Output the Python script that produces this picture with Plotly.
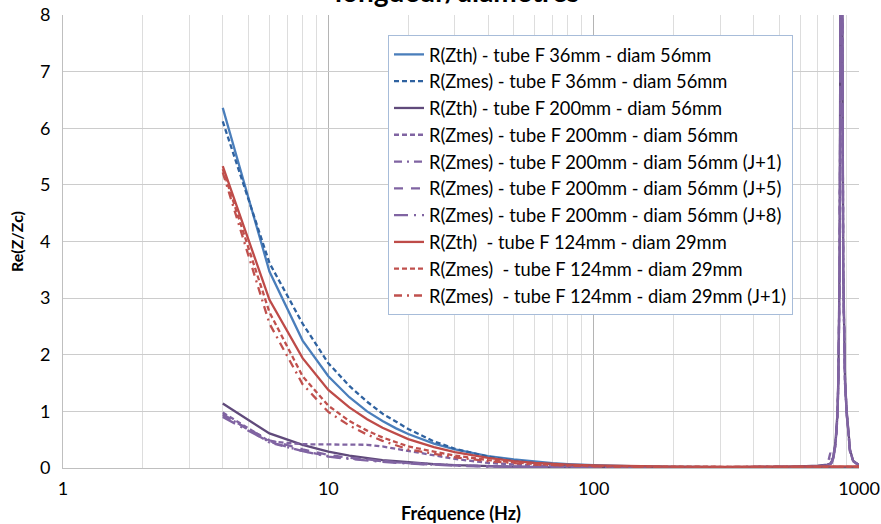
import plotly.graph_objects as go

FREQ = [4, 6, 8, 10, 12, 14, 16, 18, 20, 25, 30, 40, 50, 60, 70, 80, 100, 150, 200, 300, 400, 500, 600,
        700, 760, 780, 790, 800, 815, 829, 836, 845, 852, 858, 864, 872, 886, 899, 925, 950, 1000]

BLUE_TH = [6.36, 3.47, 2.25, 1.62, 1.25, 1.00, 0.83, 0.70, 0.60, 0.43, 0.33, 0.21, 0.15, 0.11, 0.085, 0.07, 0.05, 0.03, 0.022, 0.015, 0.012, 0.01, 0.01,
           0.01, 0.01, 0.01, 0.01, 0.01, 0.01, 0.01, 0.01, 0.01, 0.01, 0.01, 0.01, 0.01, 0.01, 0.01, 0.01, 0.01, 0.01]
BLUE_MES = [6.12, 3.62, 2.55, 1.85, 1.45, 1.17, 0.96, 0.81, 0.69, 0.47, 0.34, 0.20, 0.13, 0.09, 0.07, 0.05, 0.035, 0.02, 0.015, 0.01, 0.01, 0.01, 0.01,
            0.01, 0.01, 0.01, 0.01, 0.01, 0.01, 0.01, 0.01, 0.01, 0.01, 0.01, 0.01, 0.01, 0.01, 0.01, 0.01, 0.01, 0.01]
PURPLE_TH = [1.14, 0.61, 0.41, 0.29, 0.22, 0.17, 0.14, 0.12, 0.10, 0.07, 0.05, 0.03, 0.02, 0.015, 0.012, 0.01, 0.01, 0.01, 0.01, 0.01, 0.015, 0.02, 0.03,
             0.04, 0.06, 0.08, 0.12, 0.20, 0.45, 0.95, 1.6, 3.6, 9.0, 12.0, 9.5, 3.6, 1.55, 1.0, 0.32, 0.13, 0.05]
PURPLE_MES = [0.98, 0.47, 0.42, 0.42, 0.42, 0.41, 0.38, 0.34, 0.30, 0.22, 0.16, 0.09, 0.06, 0.04, 0.03, 0.025, 0.02, 0.015, 0.01, 0.01, 0.01, 0.015, 0.02,
              0.03, 0.05, 0.07, 0.10, 0.18, 0.40, 0.90, 1.5, 3.4, 8.6, 11.5, 9.0, 3.4, 1.5, 0.95, 0.30, 0.12, 0.05]
PURPLE_J1 = [0.95, 0.45, 0.30, 0.21, 0.17, 0.14, 0.12, 0.10, 0.09, 0.065, 0.05, 0.03, 0.02, 0.015, 0.01, 0.01, 0.01, 0.01, 0.01, 0.01, 0.01, 0.015, 0.02,
             0.03, 0.05, 0.27, 0.15, 0.20, 0.42, 0.92, 1.55, 3.5, 8.8, 11.8, 9.2, 3.5, 1.52, 0.98, 0.31, 0.12, 0.05]
PURPLE_J5 = [0.93, 0.49, 0.33, 0.23, 0.18, 0.15, 0.12, 0.10, 0.085, 0.06, 0.045, 0.03, 0.02, 0.015, 0.01, 0.01, 0.01, 0.01, 0.01, 0.01, 0.01, 0.015, 0.02,
             0.03, 0.05, 0.07, 0.10, 0.18, 0.40, 0.90, 1.5, 3.4, 8.5, 11.6, 9.1, 3.4, 1.5, 0.96, 0.30, 0.12, 0.05]
PURPLE_J8 = [0.90, 0.46, 0.30, 0.20, 0.16, 0.13, 0.11, 0.09, 0.08, 0.055, 0.04, 0.025, 0.02, 0.015, 0.01, 0.01, 0.01, 0.01, 0.01, 0.01, 0.01, 0.015, 0.02,
             0.03, 0.05, 0.07, 0.10, 0.17, 0.38, 0.88, 1.48, 3.3, 8.4, 11.4, 9.0, 3.3, 1.48, 0.94, 0.29, 0.12, 0.05]
RED_TH = [5.33, 2.97, 1.94, 1.38, 1.07, 0.86, 0.71, 0.60, 0.51, 0.37, 0.28, 0.18, 0.12, 0.09, 0.07, 0.06, 0.045, 0.03, 0.025, 0.02, 0.02, 0.02, 0.02,
          0.02, 0.02, 0.02, 0.02, 0.02, 0.02, 0.02, 0.02, 0.02, 0.02, 0.02, 0.02, 0.02, 0.02, 0.02, 0.02, 0.025, 0.03]
RED_MES = [5.28, 2.75, 1.62, 1.10, 0.83, 0.66, 0.54, 0.45, 0.38, 0.29, 0.22, 0.14, 0.10, 0.07, 0.055, 0.045, 0.035, 0.025, 0.02, 0.02, 0.02, 0.02, 0.02,
           0.02, 0.02, 0.02, 0.02, 0.02, 0.02, 0.02, 0.02, 0.02, 0.02, 0.02, 0.02, 0.02, 0.02, 0.02, 0.02, 0.02, 0.02]
RED_J1 = [5.22, 2.55, 1.48, 0.99, 0.75, 0.59, 0.48, 0.40, 0.33, 0.25, 0.19, 0.12, 0.08, 0.06, 0.05, 0.04, 0.03, 0.02, 0.02, 0.02, 0.02, 0.02, 0.02,
          0.02, 0.02, 0.02, 0.02, 0.02, 0.02, 0.02, 0.02, 0.02, 0.02, 0.02, 0.02, 0.02, 0.02, 0.02, 0.02, 0.02, 0.02]

NAMES = [
    "R(Zth) - tube F 36mm - diam 56mm",
    "R(Zmes) - tube F 36mm - diam 56mm",
    "R(Zth) - tube F 200mm - diam 56mm",
    "R(Zmes) - tube F 200mm - diam 56mm",
    "R(Zmes) - tube F 200mm - diam 56mm (J+1)",
    "R(Zmes) - tube F 200mm - diam 56mm (J+5)",
    "R(Zmes) - tube F 200mm - diam 56mm (J+8)",
    "R(Zth)  - tube F 124mm - diam 29mm",
    "R(Zmes)  - tube F 124mm - diam 29mm",
    "R(Zmes)  - tube F 124mm - diam 29mm (J+1)",
]
SERIES = [BLUE_TH, BLUE_MES, PURPLE_TH, PURPLE_MES, PURPLE_J1, PURPLE_J5, PURPLE_J8, RED_TH, RED_MES, RED_J1]
COLORS = ["#4a7ebb", "#2f62a0", "#604a7b", "#8064a2", "#8064a2", "#8064a2", "#8064a2", "#be4b48", "#c0504d", "#c0504d"]
DASHES = ["solid", "5px,3px", "solid", "5px,3px", "8px,5px,2px,5px", "9px,8px", "14px,6px,2px,6px", "solid", "5px,3px", "8px,5px,2px,5px"]

FONT = "Lato, 'Open Sans', sans-serif"

fig = go.Figure()
for i, (name, ys, c, d) in enumerate(zip(NAMES, SERIES, COLORS, DASHES)):
    fig.add_trace(go.Scatter(x=FREQ, y=ys, mode="lines", name=name, legendgroup=f"g{i}",
                             line=dict(color=c, width=2.3, dash=d)))

fig.update_layout(
    width=881, height=524,
    margin=dict(l=63, r=22, t=15, b=56),
    paper_bgcolor="white", plot_bgcolor="white",
    font=dict(family=FONT, size=18, color="#000000"),
    showlegend=True,
    legend=dict(x=(388 - 63) / 796, y=1 - (35 - 15) / 453, xanchor="left", yanchor="top",
                bgcolor="white", bordercolor="#a7bcd9", borderwidth=1,
                font=dict(family=FONT, size=18.3, color="#000000"),
                tracegroupgap=6, traceorder="normal"),
    xaxis=dict(type="log", range=[0, 3], dtick=1, showgrid=True, gridcolor="#b4b4b4", gridwidth=1,
               minor=dict(showgrid=True, gridcolor="#dddddd", gridwidth=1, dtick="D1"),
               showline=True, linecolor="#bfbfbf", linewidth=1, zeroline=False, automargin=False,
               ticks="", tickfont=dict(family=FONT, size=18), ticklabelstandoff=4,
               title=dict(text="<b>Fréquence (Hz)</b>", font=dict(family=FONT, size=18), standoff=10)),
    yaxis=dict(range=[0, 8], dtick=1, showgrid=True, gridcolor="#cccccc", gridwidth=1,
               showline=True, linecolor="#bfbfbf", linewidth=1, zeroline=False, automargin=False,
               ticks="", tickfont=dict(family=FONT, size=18), ticklabelstandoff=8,
               title=dict(text="<b>Re(Z/Zc)</b>", font=dict(family=FONT, size=16), standoff=12)),
)

fig.add_annotation(text="<b>longueur/diamètres</b>", xref="paper", yref="paper",
                   x=(457 - 63) / 796, y=1 + (15 - 10) / 453, xanchor="center", yanchor="bottom",
                   showarrow=False, font=dict(family=FONT, size=28, color="#000000"))

fig.write_html("out.html")
